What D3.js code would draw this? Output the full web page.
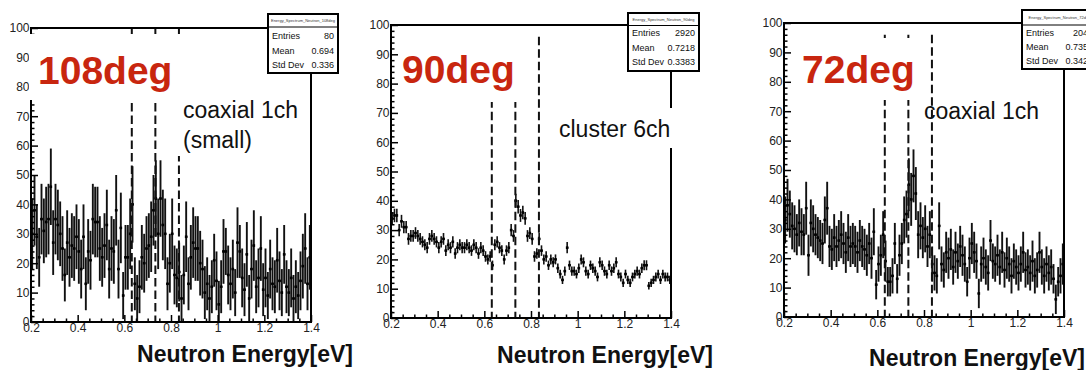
<!DOCTYPE html>
<html><head><meta charset="utf-8">
<script src="https://cdn.jsdelivr.net/npm/d3@7"></script>
<style>
body{margin:0;background:#fff}
svg{display:block}
text{font-family:"Liberation Sans",Arial,Helvetica,sans-serif}
</style></head><body>
<svg id="c" width="1086" height="370"></svg>
<script>
// ---------- data ----------
const binLow = 0.2, binWidth = 0.01;
const xTicks = [0.2, 0.4, 0.6, 0.8, 1.0, 1.2, 1.4];
const xTickLabels = ["0.2", "0.4", "0.6", "0.8", "1", "1.2", "1.4"];
const yTicks = [0, 10, 20, 30, 40, 50, 60, 70, 80, 90, 100];
const yTickLabels = ["0", "10", "20", "30", "40", "50", "60", "70", "80", "90", "100"];
const resonanceLines = [0.632, 0.733, 0.834];
const axisTitle = "Neutron Energy[eV]";
const statNames = ["Entries", "Mean", "Std Dev"];

const counts108 = [
  30, 38, 29, 22, 35, 31, 34, 35, 46, 27,
  35, 33, 30, 25, 16, 27, 22, 26, 25, 29,
  24, 18, 29, 13, 24, 21, 35, 34, 34, 25,
  22, 26, 33, 18, 25, 24, 38, 18, 32, 9,
  22, 22, 30, 40, 13, 8, 12, 22, 20, 25,
  26, 29, 38, 42, 30, 42, 33, 30, 13, 20,
  30, 16, 15, 17, 8, 16, 29, 13, 22, 27,
  25, 25, 20, 18, 10, 13, 8, 12, 21, 14,
  6, 12, 24, 24, 16, 13, 18, 10, 27, 24,
  15, 11, 23, 8, 18, 26, 12, 15, 25, 11,
  15, 9, 18, 13, 12, 21, 14, 10, 23, 12,
  10, 15, 8, 12, 9, 14, 19, 25, 13, 22];
const errors108 = [
  12, 12, 11, 10, 12, 11, 12, 12, 13, 11,
  12, 12, 11, 11, 9, 11, 10, 11, 11, 11,
  11, 10, 11, 9, 11, 10, 12, 12, 12, 11,
  10, 11, 12, 10, 11, 11, 12, 10, 12, 8,
  11, 11, 12, 13, 9, 8, 9, 11, 10, 11,
  11, 12, 12, 13, 12, 13, 12, 12, 9, 10,
  12, 10, 10, 10, 8, 10, 12, 9, 11, 12,
  11, 11, 11, 10, 9, 9, 8, 9, 9, 10,
  8, 9, 11, 8, 10, 9, 10, 8, 12, 9,
  10, 9, 11, 8, 10, 12, 9, 10, 11, 9,
  10, 8, 10, 9, 9, 11, 10, 8, 10, 9,
  8, 10, 8, 9, 8, 10, 11, 12, 9, 11];

const counts90 = [
  34, 35, 35, 30, 33, 31, 31, 27, 28, 28,
  29, 28, 27, 26, 25, 24, 27, 28, 27, 26,
  24, 26, 27, 23, 25, 24, 26, 22, 24, 25,
  24, 24, 25, 24, 23, 25, 24, 22, 24, 23,
  21, 20, 21, 18, 25, 26, 24, 23, 20, 23,
  24, 30, 28, 40, 38, 35, 36, 34, 28, 29,
  27, 21, 22, 27, 23, 20, 21, 18, 20, 19,
  20, 17, 15, 13, 16, 24, 18, 16, 16, 15,
  17, 20, 19, 16, 15, 18, 17, 16, 14, 19,
  18, 16, 15, 18, 16, 17, 19, 15, 14, 12,
  15, 13, 12, 14, 15, 16, 15, 17, 18, 18,
  11, 12, 13, 14, 15, 13, 15, 14, 14, 13];
const errors90 = [
  2.2, 2.3, 2.3, 2.1, 2.2, 2.1, 2.1, 2.0, 2.0, 2.0,
  2.0, 2.0, 2.0, 1.9, 1.9, 1.9, 2.0, 2.0, 2.0, 1.9,
  1.9, 1.9, 2.0, 1.8, 1.9, 1.9, 1.9, 1.8, 1.9, 1.9,
  1.9, 1.9, 1.9, 1.9, 1.8, 1.9, 1.9, 1.8, 1.9, 1.8,
  1.8, 1.7, 1.8, 1.6, 1.9, 1.9, 1.9, 1.8, 1.7, 1.8,
  1.9, 2.1, 2.0, 2.4, 2.3, 2.2, 2.3, 2.2, 2.0, 2.0,
  2.0, 1.8, 1.8, 2.0, 1.8, 1.7, 1.8, 1.6, 1.7, 1.7,
  1.7, 1.6, 1.5, 1.4, 1.6, 1.9, 1.6, 1.6, 1.6, 1.5,
  1.6, 1.7, 1.7, 1.6, 1.5, 1.6, 1.6, 1.6, 1.5, 1.7,
  1.6, 1.6, 1.5, 1.6, 1.6, 1.6, 1.7, 1.5, 1.5, 1.4,
  1.5, 1.4, 1.4, 1.5, 1.5, 1.6, 1.5, 1.6, 1.7, 1.7,
  1.3, 1.4, 1.4, 1.5, 1.5, 1.4, 1.5, 1.5, 1.5, 1.4];

const counts72 = [
  33, 38, 35, 31, 30, 28, 32, 29, 28, 37,
  21, 32, 30, 28, 27, 26, 25, 33, 37, 24,
  23, 27, 24, 26, 28, 25, 22, 27, 24, 25,
  24, 22, 26, 24, 23, 21, 25, 20, 29, 11,
  18, 21, 28, 19, 12, 12, 14, 25, 13, 21,
  25, 33, 35, 45, 40, 48, 42, 28, 31, 27,
  30, 24, 28, 18, 15, 14, 31, 18, 16, 22,
  20, 23, 17, 22, 19, 24, 21, 18, 12, 20,
  25, 22, 19, 8, 18, 20, 17, 15, 26, 19,
  18, 21, 17, 22, 16, 20, 18, 14, 19, 17,
  15, 18, 22, 16, 17, 15, 19, 14, 16, 22,
  17, 14, 18, 15, 17, 13, 6, 12, 14, 18];
const errors72 = [
  8, 9, 8, 8, 8, 7, 8, 8, 7, 9,
  7, 8, 8, 7, 7, 7, 7, 8, 9, 7,
  7, 8, 7, 7, 8, 7, 7, 8, 7, 7,
  7, 7, 7, 7, 7, 7, 7, 7, 8, 5,
  6, 7, 8, 7, 5, 5, 6, 7, 5, 7,
  7, 8, 8, 9, 9, 9, 9, 8, 8, 7,
  8, 7, 8, 6, 6, 6, 8, 6, 6, 7,
  7, 7, 6, 7, 6, 7, 7, 6, 5, 7,
  7, 7, 6, 5, 6, 7, 6, 6, 7, 6,
  6, 7, 6, 7, 6, 7, 6, 6, 6, 6,
  6, 6, 7, 6, 6, 6, 7, 6, 6, 7,
  6, 6, 6, 6, 6, 5, 5, 5, 6, 7];

const stats108 = ["80", "0.694", "0.336"];
const stats90 = ["2920", "0.7218", "0.3383"];
const stats72 = ["2040", "0.7355", "0.3423"];

// ---------- layout ----------
const panels = [
  {label: "108deg", note: ["coaxial 1ch", "(small)"], hist: "Energy_Spectrum_Neutron_108deg",
   counts: counts108, errors: errors108, stats: stats108, lineTop: 100,
   left: 31, right: 311, top: 28, bottom: 322, barW: 1.9,
   labelX: 38, labelY: 84, noteX: 183, noteY: 118, noteDy: 30,
   titleX: 353, titleY: 362,
   box: {x: 268, y: 14, w: 70, h: 59, sep: 27, rows: [39, 54, 68]},
   masks: [[29, 34, 141, 66], [170, 34, 136, 122]]},
  {label: "90deg", note: ["cluster 6ch"], hist: "Energy_Spectrum_Neutron_90deg",
   counts: counts90, errors: errors90, stats: stats90, lineTop: 96,
   left: 391, right: 671, top: 25, bottom: 318, barW: 1.6,
   labelX: 402, labelY: 83, noteX: 559, noteY: 137, noteDy: 0,
   titleX: 713, titleY: 363,
   box: {x: 628, y: 13, w: 71, h: 58, sep: 25.5, rows: [36, 51, 65]},
   masks: [[400, 27, 128, 75], [553, 108, 127, 40]]},
  {label: "72deg", note: ["coaxial 1ch"], hist: "Energy_Spectrum_Neutron_72deg",
   counts: counts72, errors: errors72, stats: stats72, lineTop: 96,
   left: 784, right: 1064, top: 23, bottom: 317, barW: 1.9,
   labelX: 802, labelY: 83, noteX: 924, noteY: 119, noteDy: 0,
   titleX: 1085, titleY: 366,
   box: {x: 1022, y: 10, w: 75, h: 59, sep: 25, rows: [36, 50, 64]},
   masks: [[800, 38, 120, 62]]}
];

const svg = d3.select("#c");
const defs = svg.append("defs");

panels.forEach((p, k) => {
  const x = d3.scaleLinear().domain([0.2, 1.4]).range([p.left, p.right]);
  const y = d3.scaleLinear().domain([0, 100]).range([p.bottom, p.top]);
  const g = svg.append("g");

  defs.append("clipPath").attr("id", "clip" + k).append("rect")
    .attr("x", p.left).attr("y", p.top)
    .attr("width", p.right - p.left).attr("height", p.bottom - p.top);

  const bins = p.counts.map((v, i) => ({
    lo: binLow + i * binWidth, hi: binLow + (i + 1) * binWidth,
    c: binLow + (i + 0.5) * binWidth, v: v, e: p.errors[i]}));

  const dg = g.append("g").attr("clip-path", `url(#clip${k})`);
  dg.selectAll("line.ev").data(bins).join("line").attr("class", "ev")
    .attr("x1", d => x(d.c)).attr("x2", d => x(d.c))
    .attr("y1", d => y(Math.max(0, d.v - d.e))).attr("y2", d => y(Math.min(100, d.v + d.e)))
    .attr("stroke", "#111").attr("stroke-width", p.barW);
  dg.selectAll("line.eh").data(bins).join("line").attr("class", "eh")
    .attr("x1", d => x(d.lo)).attr("x2", d => x(d.hi))
    .attr("y1", d => y(d.v)).attr("y2", d => y(d.v))
    .attr("stroke", "#000").attr("stroke-width", 1.5);
  dg.selectAll("rect.mk").data(bins).join("rect").attr("class", "mk")
    .attr("x", d => x(d.c) - 1.3).attr("y", d => y(d.v) - 1.3)
    .attr("width", 2.6).attr("height", 2.6).attr("fill", "#000");

  // resonance dashed lines
  g.selectAll("line.res").data(resonanceLines).join("line").attr("class", "res")
    .attr("x1", d => x(d)).attr("x2", d => x(d))
    .attr("y1", y(p.lineTop)).attr("y2", y(0))
    .attr("stroke", "#111").attr("stroke-width", 2).attr("stroke-dasharray", "8.5,4");

  // axes (inward ticks)
  const yMinor = d3.range(0, 101, 2).filter(v => v % 10 !== 0);
  const xMinor = d3.range(0.2, 1.4001, 0.05).filter(v => Math.abs(v * 5 - Math.round(v * 5)) > 1e-6);

  const ya = g.append("g").attr("transform", `translate(${p.left},0)`)
    .call(d3.axisLeft(y).tickValues(yTicks).tickSize(-7).tickPadding(1.5)
      .tickFormat((d, i) => yTickLabels[i]));
  const yam = g.append("g").attr("transform", `translate(${p.left},0)`)
    .call(d3.axisLeft(y).tickValues(yMinor).tickSize(-3.5).tickFormat(""));
  const xa = g.append("g").attr("transform", `translate(0,${p.bottom})`)
    .call(d3.axisBottom(x).tickValues(xTicks).tickSize(-7).tickPadding(3)
      .tickFormat((d, i) => xTickLabels[i]));
  const xam = g.append("g").attr("transform", `translate(0,${p.bottom})`)
    .call(d3.axisBottom(x).tickValues(xMinor).tickSize(-3.5).tickFormat(""));
  [ya, yam, xa, xam].forEach(a => {
    a.select(".domain").remove();
    a.selectAll("line").attr("stroke", "#000").attr("stroke-width", 1.5);
    a.selectAll("text").attr("font-size", 12).attr("fill", "#222")
      .style("font-family", '"Liberation Sans", Arial, sans-serif');
  });
  xa.selectAll("text").attr("dy", "0.6em");

  // frame
  g.append("rect").attr("x", p.left).attr("y", p.top)
    .attr("width", p.right - p.left).attr("height", p.bottom - p.top)
    .attr("fill", "none").attr("stroke", "#000").attr("stroke-width", 2);

  // white masks behind pasted labels
  p.masks.forEach(m => g.append("rect").attr("x", m[0]).attr("y", m[1])
    .attr("width", m[2]).attr("height", m[3]).attr("fill", "#fff"));

  // stat box
  const b = p.box;
  g.append("rect").attr("x", b.x).attr("y", b.y).attr("width", b.w).attr("height", b.h)
    .attr("fill", "#fff").attr("stroke", "#000").attr("stroke-width", 2);
  g.append("line").attr("x1", b.x).attr("x2", b.x + b.w).attr("y1", b.sep).attr("y2", b.sep)
    .attr("stroke", "#000").attr("stroke-width", 1);
  g.append("text").attr("x", b.x + b.w / 2).attr("y", (b.y + b.sep) / 2 + 1.5)
    .attr("text-anchor", "middle").attr("font-size", 4).attr("fill", "#333").text(p.hist);
  statNames.forEach((n, i) => {
    g.append("text").attr("x", b.x + 4).attr("y", b.rows[i]).attr("font-size", 9)
      .attr("fill", "#111").text(n);
    g.append("text").attr("x", b.x + b.w - 4).attr("y", b.rows[i]).attr("font-size", 9)
      .attr("text-anchor", "end").attr("fill", "#111").text(p.stats[i]);
  });

  // labels
  g.append("text").attr("x", p.labelX).attr("y", p.labelY)
    .attr("font-size", 39).attr("font-weight", "bold").attr("fill", "#c8260f").text(p.label);
  p.note.forEach((t, i) => g.append("text").attr("x", p.noteX).attr("y", p.noteY + i * p.noteDy)
    .attr("font-size", 23).attr("fill", "#111").text(t));
  g.append("text").attr("x", p.titleX).attr("y", p.titleY).attr("text-anchor", "end")
    .attr("font-size", 23).attr("font-weight", "bold").attr("fill", "#111").text(axisTitle);
});
</script>
</body></html>
